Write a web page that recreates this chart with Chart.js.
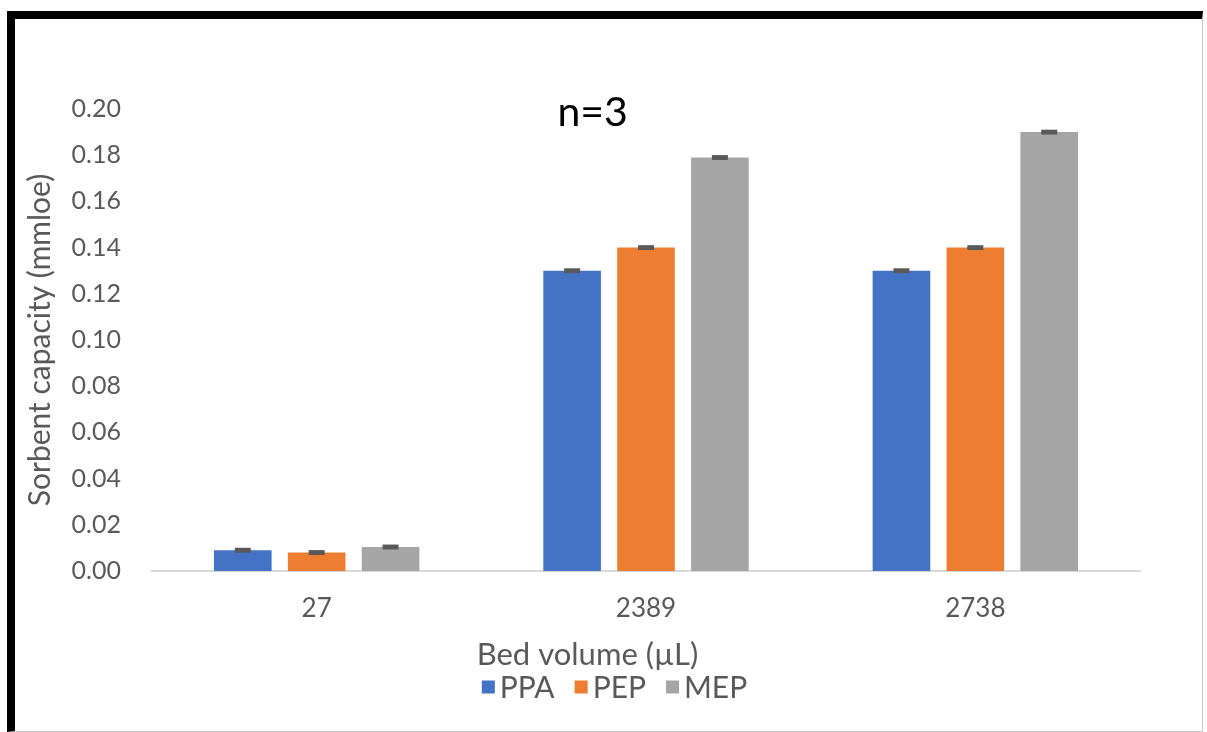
<!DOCTYPE html>
<html>
<head>
<meta charset="utf-8">
<script src="https://cdn.jsdelivr.net/npm/chart.js@4"></script>
<style>
  html, body { margin: 0; padding: 0; background: #fff; }
  #frame {
    position: absolute; left: 7px; top: 11px;
    width: 1187px; height: 712px;
    border-left: 8px solid #000; border-top: 8px solid #000;
    border-right: 1px solid #c8c8c8; border-bottom: 1px solid #c8c8c8;
  }
</style>
</head>
<body>
<div id="frame"><canvas id="myChart" width="1187" height="712"></canvas></div>
<script>
const labels = ['27', '2389', '2738'];
const seriesNames = ['PPA', 'PEP', 'MEP'];
const ppa = [0.009, 0.130, 0.130];
const pep = [0.008, 0.140, 0.140];
const mep = [0.0104, 0.179, 0.190];
const ppaErr = [0.0004, 0.0004, 0.0004];
const pepErr = [0.0004, 0.0004, 0.0004];
const mepErr = [0.0004, 0.0004, 0.0004];
const colors = ['#4472C4', '#ED7D31', '#A5A5A5'];
const xTitle = 'Bed volume (µL)';

const fontFam = 'Lato, "Open Sans", sans-serif';

// little caps on top of each bar
const errorBars = {
  id: 'errorBars',
  afterDatasetsDraw(chart) {
    const ctx = chart.ctx;
    const y = chart.scales.y;
    ctx.save();
    ctx.fillStyle = '#595959';
    chart.data.datasets.forEach((ds, di) => {
      const meta = chart.getDatasetMeta(di);
      meta.data.forEach((bar, i) => {
        const v = ds.data[i];
        const e = ds.errors[i];
        const top = y.getPixelForValue(v + e) - 1.5;
        const bottom = y.getPixelForValue(v - e) + 1.5;
        ctx.fillRect(bar.x - 8, top, 16, bottom - top);
      });
    });
    ctx.restore();
  }
};

// "n=3" note and the x axis title (centred on the canvas, not the plot)
const extraText = {
  id: 'extraText',
  afterDraw(chart) {
    const ctx = chart.ctx;
    const a = chart.chartArea;
    ctx.save();
    ctx.textAlign = 'center';
    ctx.textBaseline = 'middle';
    ctx.fillStyle = '#000';
    ctx.font = '41px ' + fontFam;
    ctx.fillText('n=3', a.left + (a.right - a.left) * 0.446, a.top + 4);
    ctx.fillStyle = '#595959';
    ctx.font = '31px ' + fontFam;
    ctx.fillText(xTitle, chart.width / 2 - 21, a.bottom + 84);
    ctx.restore();
  }
};

// compact legend, Excel style (small square, text close to it)
const bottomLegend = {
  id: 'bottomLegend',
  afterDraw(chart) {
    const ctx = chart.ctx;
    const box = 13, gapText = 5, gapItem = 20;
    ctx.save();
    ctx.font = '30px ' + fontFam;
    ctx.textBaseline = 'middle';
    const items = chart.data.datasets.map(ds => ({
      text: ds.label, color: ds.backgroundColor, w: ctx.measureText(ds.label).width
    }));
    let total = items.reduce((s, it) => s + box + gapText + it.w, 0) + gapItem * (items.length - 1);
    let x = chart.width / 2 + 6 - total / 2;
    const y = 668;
    items.forEach(it => {
      ctx.fillStyle = it.color;
      ctx.fillRect(x, y - box / 2, box, box);
      x += box + gapText;
      ctx.fillStyle = '#595959';
      ctx.fillText(it.text, x, y + 1);
      x += it.w + gapItem;
    });
    ctx.restore();
  }
};

const data = {
  labels: labels,
  datasets: [
    { label: seriesNames[0], data: ppa, errors: ppaErr, backgroundColor: colors[0] },
    { label: seriesNames[1], data: pep, errors: pepErr, backgroundColor: colors[1] },
    { label: seriesNames[2], data: mep, errors: mepErr, backgroundColor: colors[2] }
  ]
};

const config = {
  type: 'bar',
  data,
  options: {
    responsive: false,
    animation: false,
    categoryPercentage: 0.673,
    barPercentage: 0.78,
    layout: { padding: { top: 90, right: 62, bottom: 57, left: 0 } },
    scales: {
      x: {
        grid: { display: false },
        border: { display: true, color: '#D9D9D9', width: 2 },
        ticks: { color: '#595959', font: { family: fontFam, size: 26 }, padding: 14 },
        afterFit(scale) { scale.height = 103; }
      },
      y: {
        min: 0, max: 0.2,
        grid: { display: false },
        border: { display: false },
        ticks: { stepSize: 0.02, color: '#595959', font: { family: fontFam, size: 25 },
                 padding: 23, callback: v => v.toFixed(2) },
        title: { display: true, text: 'Sorbent capacity (mmloe)', color: '#595959',
                 font: { family: fontFam, size: 30 }, padding: { top: 7, bottom: 0 } },
        afterFit(scale) { scale.width = 137; }
      }
    },
    plugins: {
      legend: { display: false },
      tooltip: { enabled: false }
    }
  },
  plugins: [errorBars, extraText, bottomLegend]
};

var myChart = new Chart(document.getElementById('myChart'), config);
</script>
</body>
</html>
